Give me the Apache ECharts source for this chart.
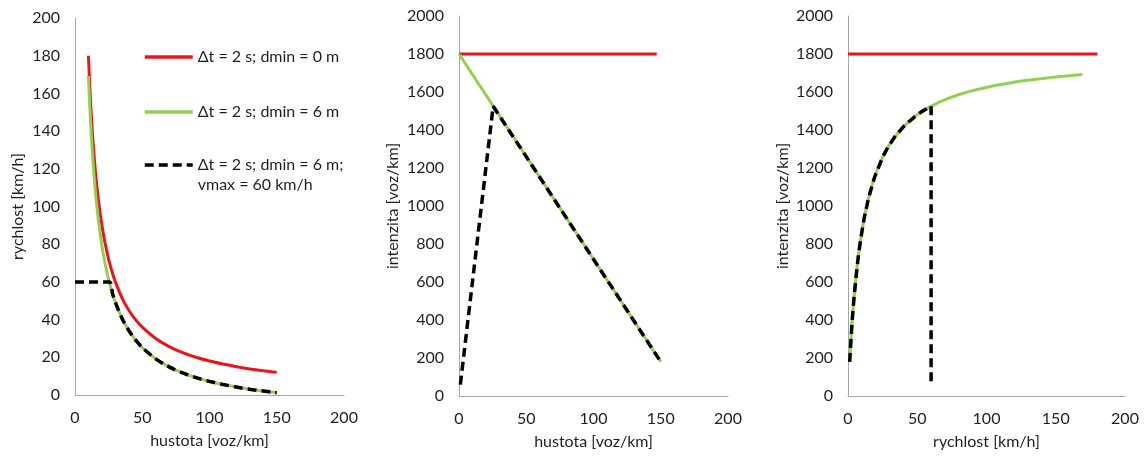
<!DOCTYPE html>
<html>
<head>
<meta charset="utf-8">
<script src="https://cdn.jsdelivr.net/npm/echarts@6/dist/echarts.min.js"></script>
<style>
  html, body { margin: 0; padding: 0; background: #fff; }
  #chart { width: 1146px; height: 459px; }
</style>
</head>
<body>
<div id="chart"></div>
<script>
// Speed–density, flow–density and flow–speed relations for a 2 s time gap.

const seriesNames = ['Δt = 2 s; dmin = 0 m', 'Δt = 2 s; dmin = 6 m', 'Δt = 2 s; dmin = 6 m;\nvmax = 60 km/h'];
const axisTicks = [0, 50, 100, 150, 200];

// Panel 1: speed [km/h] vs density [veh/km]
const density = [10, 11, 12, 13, 14, 15, 16, 18, 20, 22, 25, 28, 30, 35, 40, 45, 50, 60, 70, 80, 90, 100, 110, 120, 130, 140, 150];
const speedDmin0 = [180, 163.6, 150, 138.5, 128.6, 120, 112.5, 100, 90, 81.8, 72, 64.3, 60, 51.4, 45, 40, 36, 30, 25.7, 22.5, 20, 18, 16.4, 15, 13.8, 12.9, 12];
const speedDmin6 = [169.2, 152.8, 139.2, 127.7, 117.8, 109.2, 101.7, 89.2, 79.2, 71.0, 61.2, 53.5, 49.2, 40.6, 34.2, 29.2, 25.2, 19.2, 14.9, 11.7, 9.2, 7.2, 5.6, 4.2, 3.0, 2.1, 1.2];
const densityVmax = [0, 25.4, 28, 30, 35, 40, 45, 50, 60, 70, 80, 90, 100, 110, 120, 130, 140, 150];
const speedVmax = [60, 60, 53.5, 49.2, 40.6, 34.2, 29.2, 25.2, 19.2, 14.9, 11.7, 9.2, 7.2, 5.6, 4.2, 3.0, 2.1, 1.2];

// Panel 2: flow [veh/h] vs density
const densityFlow0 = [0, 147];
const flowDmin0 = [1800, 1800];
const densityFlow6 = [0, 150];
const flowDmin6 = [1800, 180];
const densityFlowVmax = [1, 25.4, 150];
const flowVmax = [60, 1525, 180];

// Panel 3: flow vs speed
const speedQ0 = [0, 180];
const flowQ0 = [1800, 1800];
const speedQ6 = [1.2, 2.1, 3.0, 4.2, 5.6, 7.2, 9.2, 11.7, 14.9, 19.2, 25.2, 29.2, 34.2, 40.6, 49.2, 53.5, 61.2, 71.0, 79.2, 89.2, 101.7, 109.2, 117.8, 127.7, 139.2, 152.8, 169.2];
const flowQ6 = [180, 288, 396, 504, 612, 720, 828, 936, 1044, 1152, 1260, 1314, 1368, 1422, 1476, 1498, 1530, 1562, 1584, 1606, 1627, 1638, 1649, 1660, 1670, 1681, 1692];
const speedQVmax = [1.2, 2.1, 3.0, 4.2, 5.6, 7.2, 9.2, 11.7, 14.9, 19.2, 25.2, 29.2, 34.2, 40.6, 49.2, 53.5, 60, 60];
const flowQVmax = [180, 288, 396, 504, 612, 720, 828, 936, 1044, 1152, 1260, 1314, 1368, 1422, 1476, 1498, 1525, 60];

const zip = (xs, ys) => xs.map((x, i) => [x, ys[i]]);

const FONT = 'Lato';
const FS = 16;
const TXT = '#1f1f1f';
const RED = '#e8161b';
const GREEN = '#92d050';
const BLACK = '#000000';

function xAxis(idx, name) {
  return {
    type: 'value', gridIndex: idx, min: 0, max: 200, interval: 50,
    name: name, nameLocation: 'middle', nameGap: 38,
    nameTextStyle: { fontFamily: FONT, fontSize: FS, color: TXT },
    axisLine: { show: true, lineStyle: { color: '#a6a6a6', width: 1 } },
    axisTick: { show: false },
    splitLine: { show: false },
    axisLabel: { fontFamily: FONT, fontSize: FS, color: TXT, margin: 15,
      formatter: v => axisTicks.includes(v) ? String(v) : '' }
  };
}
function yAxis(idx, max, interval, name, gap) {
  return {
    type: 'value', gridIndex: idx, min: 0, max: max, interval: interval,
    name: name, nameLocation: 'middle', nameGap: gap,
    nameTextStyle: { fontFamily: FONT, fontSize: FS, color: TXT },
    axisLine: { show: true, lineStyle: { color: '#a6a6a6', width: 1 } },
    axisTick: { show: false },
    splitLine: { show: false },
    axisLabel: { fontFamily: FONT, fontSize: FS, color: TXT, margin: 15,
      formatter: v => String(v) }
  };
}
function line(name, idx, data, color, dashed, smooth) {
  return {
    type: 'line', name: name, xAxisIndex: idx, yAxisIndex: idx,
    data: data, symbol: 'none', smooth: smooth ? 0.3 : false,
    lineStyle: { color: color, width: dashed ? 3.5 : 3, type: dashed ? [9, 5] : 'solid', cap: 'butt' },
    itemStyle: { color: color },
    silent: true, animation: false
  };
}
// One legend block per entry; the two-line entry keeps its first line level with the key.
function legendFor(name, top, twoLines) {
  return {
    data: [name], left: 143, top: top, orient: 'vertical', padding: 0,
    itemWidth: 48, itemHeight: 14, itemGap: 0, selectedMode: false,
    itemStyle: { opacity: 0 },
    lineStyle: { width: 3.5 },
    formatter: n => n.split('\n').map(s => '{t|' + s + '}').join('\n'),
    textStyle: {
      fontFamily: FONT, fontSize: FS, color: TXT,
      padding: twoLines ? [20, 0, 0, 0] : 0,
      rich: { t: { fontFamily: FONT, fontSize: FS, color: TXT, lineHeight: 20 } }
    }
  };
}

const chart = echarts.init(document.getElementById('chart'), null, { renderer: 'canvas' });
chart.setOption({
  backgroundColor: '#ffffff',
  animation: false,
  grid: [
    { left: 75, right: 802, top: 18, bottom: 64 },
    { left: 459, right: 418, top: 16, bottom: 63 },
    { left: 848, right: 21, top: 16, bottom: 63 }
  ],
  xAxis: [
    xAxis(0, 'hustota [voz/km]'),
    xAxis(1, 'hustota [voz/km]'),
    xAxis(2, 'rychlost [km/h]')
  ],
  yAxis: [
    yAxis(0, 200, 20, 'rychlost [km/h]', 49),
    yAxis(1, 2000, 200, 'intenzita [voz/km]', 58),
    yAxis(2, 2000, 200, 'intenzita [voz/km]', 57)
  ],
  legend: [
    legendFor(seriesNames[0], 49, false),
    legendFor(seriesNames[1], 104, false),
    legendFor(seriesNames[2], 157, true)
  ],
  series: [
    line(seriesNames[0], 0, zip(density, speedDmin0), RED, false, true),
    line(seriesNames[1], 0, zip(density, speedDmin6), GREEN, false, true),
    line(seriesNames[2], 0, zip(densityVmax, speedVmax), BLACK, true, true),
    line(seriesNames[0], 1, zip(densityFlow0, flowDmin0), RED, false, false),
    line(seriesNames[1], 1, zip(densityFlow6, flowDmin6), GREEN, false, false),
    line(seriesNames[2], 1, zip(densityFlowVmax, flowVmax), BLACK, true, false),
    line(seriesNames[0], 2, zip(speedQ0, flowQ0), RED, false, false),
    line(seriesNames[1], 2, zip(speedQ6, flowQ6), GREEN, false, true),
    line(seriesNames[2], 2, zip(speedQVmax, flowQVmax), BLACK, true, false)
  ]
});
</script>
</body>
</html>
